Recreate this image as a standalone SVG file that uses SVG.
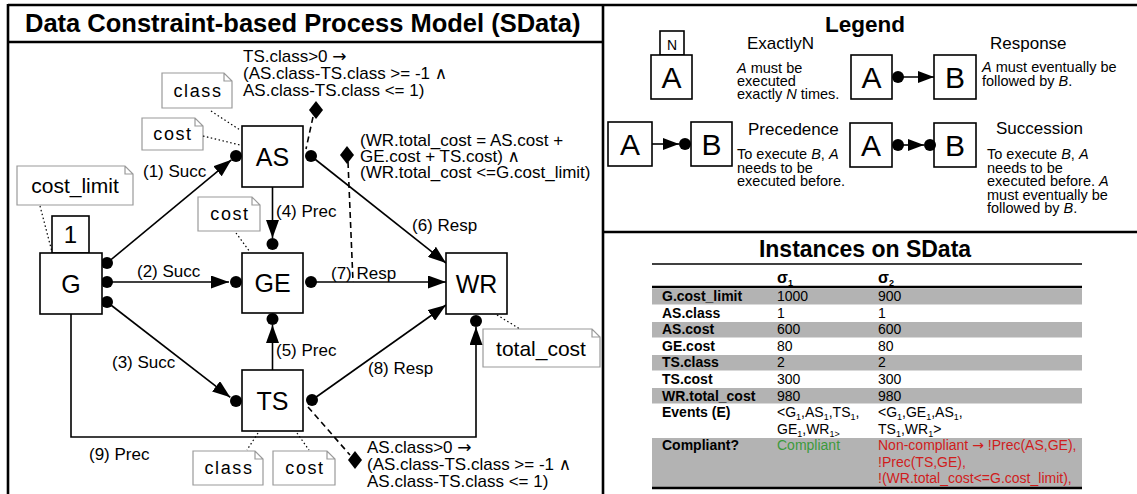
<svg xmlns="http://www.w3.org/2000/svg" width="1137" height="494" viewBox="0 0 1137 494">
<defs>
<style>
text{font-family:"Liberation Sans",Arial,Helvetica,sans-serif;fill:#000}
.frame{fill:none;stroke:#000;stroke-width:2.6}
.box{fill:#fff;stroke:#000;stroke-width:1.6}
.conn{fill:none;stroke:#000;stroke-width:1.6}
.dash{fill:none;stroke:#000;stroke-width:1.6;stroke-dasharray:6 4}
.dotted{fill:none;stroke:#000;stroke-width:1.2;stroke-dasharray:1.5 2.5}
.note{fill:#fff;stroke:#9a9a9a;stroke-width:1.2}
.nl{font-size:25px;text-anchor:middle}
.cl{font-size:17px}
.ct{font-size:17px}
.nt{font-size:18px;letter-spacing:1.6px;text-anchor:middle}
.nt2{font-size:21px;text-anchor:middle}
.lh{font-size:17px}
.ld{font-size:14.5px}
.lb{font-size:30px;text-anchor:middle}
.tb{font-size:14px}
.th{font-size:14px;font-weight:bold}
.s{font-size:9px}
.sym{font-family:"DejaVu Sans",sans-serif}
.shade{fill:#b3b3b3}
</style>
<marker id="arr" markerUnits="userSpaceOnUse" markerWidth="18" markerHeight="13" refX="18" refY="6.5" orient="auto"><path d="M0,0 L18,6.5 L0,13 z" fill="#000"/></marker>
<marker id="arrs" markerUnits="userSpaceOnUse" markerWidth="16" markerHeight="12" refX="16" refY="6" orient="auto"><path d="M0,0 L16,6 L0,12 z" fill="#000"/></marker>
</defs>
<rect width="1137" height="494" fill="#fff"/>

<!-- frames -->
<g id="frames">
<line class="frame" x1="8" y1="5" x2="1137" y2="5"/>
<line class="frame" x1="8" y1="4" x2="8" y2="494"/>
<line class="frame" x1="603" y1="4" x2="603" y2="494"/>
<line class="frame" x1="8" y1="42" x2="603" y2="42"/>
<line class="frame" x1="603" y1="232" x2="1137" y2="232"/>
<text x="25" y="32" style="font-size:25.5px;font-weight:bold">Data Constraint-based Process Model (SData)</text>
</g>

<!-- data notes -->
<g id="notes">
<path class="note" d="M162,73 H224 L232,81 V108 H162 Z M224,73 V81 H232"/>
<text class="nt" x="198" y="97">class</text>
<path class="note" d="M142,118 H195 L203,126 V150 H142 Z M195,118 V126 H203"/>
<text class="nt" x="173" y="140">cost</text>
<path class="note" d="M17,166 H125 L133,174 V205 H17 Z M125,166 V174 H133"/>
<text class="nt2" x="75" y="193">cost_limit</text>
<path class="note" d="M198,197 H252 L260,205 V231 H198 Z M252,197 V205 H260"/>
<text class="nt" x="230" y="220">cost</text>
<path class="note" d="M483,329 H592 L600,337 V367 H483 Z M592,329 V337 H600"/>
<text class="nt2" x="541" y="356">total_cost</text>
<path class="note" d="M193,451 H255 L263,459 V485 H193 Z M255,451 V459 H263"/>
<text class="nt" x="229" y="474">class</text>
<path class="note" d="M273,451 H327 L335,459 V485 H273 Z M327,451 V459 H335"/>
<text class="nt" x="305" y="474">cost</text>
<line class="dotted" x1="211" y1="111" x2="240" y2="130"/>
<line class="dotted" x1="203" y1="136" x2="240" y2="145"/>
<line class="dotted" x1="40" y1="206" x2="52" y2="252"/>
<line class="dotted" x1="236" y1="233" x2="250" y2="252"/>
<line class="dotted" x1="497" y1="315" x2="520" y2="329"/>
<line class="dotted" x1="258" y1="433" x2="247" y2="450"/>
<line class="dotted" x1="297" y1="433" x2="309" y2="450"/>
</g>

<!-- connectors -->
<g id="connectors">
<line class="conn" x1="107" y1="263" x2="231.4" y2="159.8" marker-end="url(#arr)"/>
<line class="conn" x1="107" y1="282" x2="229" y2="282" marker-end="url(#arr)"/>
<line class="conn" x1="107" y1="302" x2="230.3" y2="397.3" marker-end="url(#arr)"/>
<line class="conn" x1="272.5" y1="187" x2="272.5" y2="238" marker-end="url(#arr)"/>
<line class="conn" x1="272.5" y1="370" x2="272.5" y2="325" marker-end="url(#arr)"/>
<line class="conn" x1="311" y1="156" x2="446" y2="263" marker-end="url(#arr)"/>
<line class="conn" x1="311" y1="282" x2="446" y2="282" marker-end="url(#arr)"/>
<line class="conn" x1="312" y1="400" x2="446" y2="305" marker-end="url(#arr)"/>
<polyline class="conn" points="71,314 71,437 476,437 476,327" marker-end="url(#arr)"/>
<g fill="#000">
<circle cx="107" cy="263" r="6"/><circle cx="107" cy="282" r="6"/><circle cx="107" cy="302" r="6"/>
<circle cx="236" cy="156" r="6"/><circle cx="311" cy="156" r="6"/>
<circle cx="272.5" cy="244" r="6"/><circle cx="236" cy="282" r="6"/><circle cx="311" cy="282" r="6"/><circle cx="272.5" cy="319" r="6"/>
<circle cx="236" cy="401" r="6"/><circle cx="312" cy="400" r="6"/>
<circle cx="476" cy="321" r="6"/>
</g>
<text class="cl" x="143" y="177">(1) Succ</text>
<text class="cl" x="137" y="277">(2) Succ</text>
<text class="cl" x="112" y="368">(3) Succ</text>
<text class="cl" x="276" y="217">(4) Prec</text>
<text class="cl" x="276" y="356">(5) Prec</text>
<text class="cl" x="412" y="231">(6) Resp</text>
<text class="cl" x="331" y="279">(7) Resp</text>
<text class="cl" x="368" y="374">(8) Resp</text>
<text class="cl" x="89" y="460">(9) Prec</text>
</g>

<!-- data constraints -->
<g id="constraints">
<line class="dash" x1="313" y1="117" x2="306" y2="149"/>
<path d="M316,101 L323,110 L316,119 L309,110 Z" fill="#000"/>
<text class="ct" x="243" y="62">TS.class&gt;0 <tspan class="sym">→</tspan><tspan x="243" dy="17">(AS.class-TS.class &gt;= -1 <tspan class="sym">∧</tspan></tspan><tspan x="243" dy="17">AS.class-TS.class &lt;= 1)</tspan></text>
<line class="dash" x1="348" y1="162" x2="353" y2="282"/>
<path d="M347,146 L354,155 L347,164 L340,155 Z" fill="#000"/>
<text class="ct" x="360" y="146">(WR.total_cost = AS.cost +<tspan x="360" dy="16">GE.cost + TS.cost) <tspan class="sym">∧</tspan></tspan><tspan x="360" dy="16">(WR.total_cost &lt;=G.cost_limit)</tspan></text>
<line class="dash" x1="308" y1="407" x2="350" y2="455"/>
<path d="M355,451 L362,460 L355,469 L348,460 Z" fill="#000"/>
<text class="ct" x="367" y="453">AS.class&gt;0 <tspan class="sym">→</tspan><tspan x="367" dy="17">(AS.class-TS.class &gt;= -1 <tspan class="sym">∧</tspan></tspan><tspan x="367" dy="17">AS.class-TS.class &lt;= 1)</tspan></text>
</g>

<!-- nodes -->
<g id="node-G">
<rect class="box" x="52" y="216" width="37" height="37"/>
<text x="70.5" y="243" style="font-size:24px;text-anchor:middle">1</text>
<rect class="box" x="40" y="253" width="62" height="61"/>
<text class="nl" x="71" y="292.5">G</text>
</g>
<g id="node-AS">
<rect class="box" x="242" y="126" width="61" height="61"/>
<text class="nl" x="272.5" y="165.5">AS</text>
</g>
<g id="node-GE">
<rect class="box" x="242" y="253" width="61" height="60"/>
<text class="nl" x="272.5" y="292">GE</text>
</g>
<g id="node-TS">
<rect class="box" x="242" y="370" width="61" height="61"/>
<text class="nl" x="272.5" y="409.5">TS</text>
</g>
<g id="node-WR">
<rect class="box" x="446" y="253" width="61" height="61"/>
<text class="nl" x="476.5" y="292.5">WR</text>
</g>

<!-- legend -->
<g id="legend">
<text x="865" y="32" style="font-size:22.5px;font-weight:bold;text-anchor:middle">Legend</text>
<g id="legend-exactlyN">
<rect class="box" x="660" y="31" width="24" height="24"/>
<text x="672" y="50" style="font-size:14px;text-anchor:middle">N</text>
<rect class="box" x="651" y="55" width="41" height="44"/>
<text class="lb" x="671.5" y="88">A</text>
<text class="lh" x="747" y="49">ExactlyN</text>
<text class="ld" x="737" y="73"><tspan font-style="italic">A</tspan> must be<tspan x="737" dy="13">executed</tspan><tspan x="737" dy="13">exactly <tspan font-style="italic">N</tspan> times.</tspan></text>
</g>
<g id="legend-response">
<rect class="box" x="851" y="55" width="41" height="44"/>
<text class="lb" x="871.5" y="88">A</text>
<rect class="box" x="934" y="55" width="42" height="44"/>
<text class="lb" x="955" y="88">B</text>
<line class="conn" x1="898" y1="77" x2="934" y2="77" marker-end="url(#arrs)"/>
<circle cx="898" cy="77" r="6"/>
<text class="lh" x="990" y="49">Response</text>
<text class="ld" x="982" y="72"><tspan font-style="italic">A</tspan> must eventually be<tspan x="982" dy="14">followed by <tspan font-style="italic">B</tspan>.</tspan></text>
</g>
<g id="legend-precedence">
<rect class="box" x="608" y="122" width="44" height="44"/>
<text class="lb" x="630" y="155">A</text>
<rect class="box" x="691" y="122" width="41" height="44"/>
<text class="lb" x="711.5" y="155">B</text>
<line class="conn" x1="652" y1="144" x2="679" y2="144" marker-end="url(#arrs)"/>
<circle cx="685" cy="144" r="6"/>
<text class="lh" x="748" y="135">Precedence</text>
<text class="ld" x="737" y="159">To execute <tspan font-style="italic">B</tspan>, <tspan font-style="italic">A</tspan><tspan x="737" dy="13.5">needs to be</tspan><tspan x="737" dy="13.5">executed before.</tspan></text>
</g>
<g id="legend-succession">
<rect class="box" x="850" y="123" width="42" height="44"/>
<text class="lb" x="871" y="156">A</text>
<rect class="box" x="934" y="123" width="42" height="44"/>
<text class="lb" x="955" y="156">B</text>
<line class="conn" x1="898" y1="145" x2="924" y2="145" marker-end="url(#arrs)"/>
<circle cx="898" cy="145" r="6"/>
<circle cx="930" cy="145" r="6"/>
<text class="lh" x="996" y="134">Succession</text>
<text class="ld" x="987" y="159">To execute <tspan font-style="italic">B</tspan>, <tspan font-style="italic">A</tspan><tspan x="987" dy="13.5">needs to be</tspan><tspan x="987" dy="13.5">executed before. <tspan font-style="italic">A</tspan></tspan><tspan x="987" dy="13.5">must eventually be</tspan><tspan x="987" dy="13.5">followed by <tspan font-style="italic">B</tspan>.</tspan></text>
</g>
</g>

<!-- instances table -->
<g id="instances">
<text x="865" y="257" style="font-size:23px;font-weight:bold;text-anchor:middle">Instances on SData</text>
<rect class="shade" x="652" y="289" width="430" height="15.5"/>
<rect class="shade" x="652" y="322" width="430" height="15.5"/>
<rect class="shade" x="652" y="355" width="430" height="15.5"/>
<rect class="shade" x="652" y="388" width="430" height="15.5"/>
<rect class="shade" x="652" y="438" width="430" height="49"/>
<line x1="652" y1="264" x2="1082" y2="264" stroke="#000" stroke-width="1.5"/>
<line x1="652" y1="287" x2="1082" y2="287" stroke="#000" stroke-width="2.4"/>
<line x1="652" y1="488" x2="1082" y2="488" stroke="#000" stroke-width="2.4"/>
<text x="777" y="283" style="font-size:16px;font-weight:bold">σ<tspan class="s" dy="3">1</tspan></text>
<text x="878" y="283" style="font-size:16px;font-weight:bold">σ<tspan class="s" dy="3">2</tspan></text>
<text class="th" x="662" y="301">G.cost_limit</text>
<text class="tb" x="777" y="301">1000</text><text class="tb" x="878" y="301">900</text>
<text class="th" x="662" y="317.5">AS.class</text>
<text class="tb" x="777" y="317.5">1</text><text class="tb" x="878" y="317.5">1</text>
<text class="th" x="662" y="334">AS.cost</text>
<text class="tb" x="777" y="334">600</text><text class="tb" x="878" y="334">600</text>
<text class="th" x="662" y="350.5">GE.cost</text>
<text class="tb" x="777" y="350.5">80</text><text class="tb" x="878" y="350.5">80</text>
<text class="th" x="662" y="367">TS.class</text>
<text class="tb" x="777" y="367">2</text><text class="tb" x="878" y="367">2</text>
<text class="th" x="662" y="384">TS.cost</text>
<text class="tb" x="777" y="384">300</text><text class="tb" x="878" y="384">300</text>
<text class="th" x="662" y="400.5">WR.total_cost</text>
<text class="tb" x="777" y="400.5">980</text><text class="tb" x="878" y="400.5">980</text>
<text class="th" x="662" y="417">Events (E)</text>
<text class="tb" x="777" y="417">&lt;G<tspan class="s" dy="3">1</tspan><tspan dy="-3">,AS</tspan><tspan class="s" dy="3">1</tspan><tspan dy="-3">,TS</tspan><tspan class="s" dy="3">1</tspan><tspan dy="-3">,</tspan><tspan x="777" dy="16.5">GE</tspan><tspan class="s" dy="3">1</tspan><tspan dy="-3">,WR</tspan><tspan class="s" dy="3">1&gt;</tspan></text>
<text class="tb" x="878" y="417">&lt;G<tspan class="s" dy="3">1</tspan><tspan dy="-3">,GE</tspan><tspan class="s" dy="3">1</tspan><tspan dy="-3">,AS</tspan><tspan class="s" dy="3">1</tspan><tspan dy="-3">,</tspan><tspan x="878" dy="16.5">TS</tspan><tspan class="s" dy="3">1</tspan><tspan dy="-3">,WR</tspan><tspan class="s" dy="3">1</tspan><tspan dy="-3">&gt;</tspan></text>
<text class="th" x="662" y="450">Compliant?</text>
<text class="tb" x="777" y="450" style="fill:#3c9a3c">Compliant</text>
<text class="tb" x="878" y="450" style="fill:#d01c1c">Non-compliant <tspan class="sym">→</tspan> !Prec(AS,GE),<tspan x="878" dy="16.5">!Prec(TS,GE),</tspan><tspan x="878" dy="16.5">!(WR.total_cost&lt;=G.cost_limit),</tspan></text>
</g>
</svg>
